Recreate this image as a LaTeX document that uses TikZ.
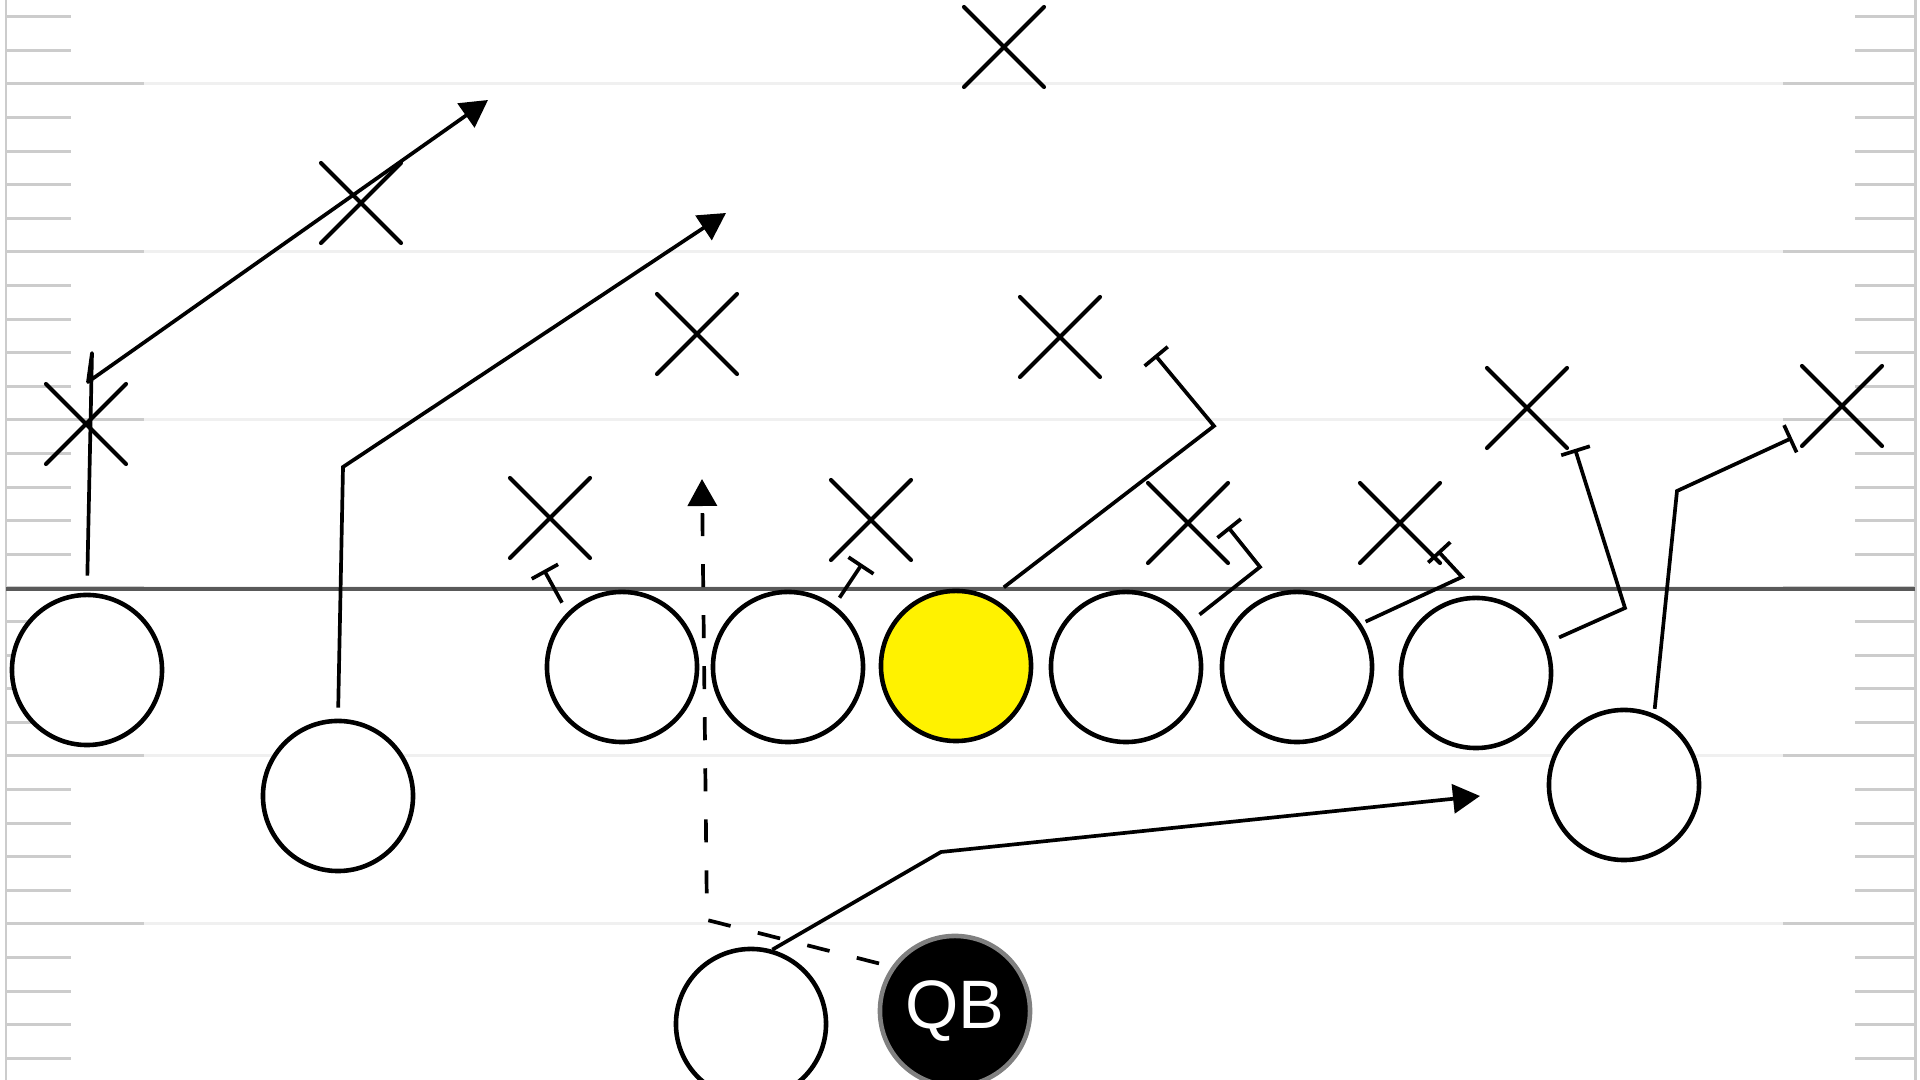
\documentclass[tikz,border=0pt]{standalone}
\usepackage{fontspec}
\newfontfamily\qbfont{Liberation Sans}
\usetikzlibrary{arrows.meta,shapes.misc}

\begin{document}
\begin{tikzpicture}[
		x=0.01cm,
		y=-0.01cm,
		hash/.style={draw=black!20, line width=0.85pt},
		yardline/.style={draw=black!6, line width=0.85pt},
		scrimmage/.style={draw=black!65, line width=1.3pt},
		player/.style={
			circle,
			draw=black,
			line width=1.3pt,
			fill=white,
			minimum size=1.5cm,
			inner sep=0pt,
		},
		snapper/.style={player, fill=yellow},
		qb/.style={
			player,
			fill=black,
			draw=black!50,
			text=white,
			font=\qbfont\fontsize{19.5}{22}\selectfont,
		},
		defender/.style={
			cross out,
			draw=black,
			line width=1.15pt,
			line cap=round,
			minimum size=0.76cm,
			inner sep=0pt,
		},
		route/.style={draw=black, line width=1.05pt},
		pass/.style={route, -{Triangle[length=0.27cm, width=0.29cm]}},
		block/.style={route, -{Bar[width=0.3cm]}},
		run/.style={pass, dash pattern=on 0.23cm off 0.28cm},
	]
		\fill[white] (0,0) rectangle (1920,1080);
		\useasboundingbox (0,0) rectangle (1920,1080);

		\foreach \n [evaluate=\n as \yy using 16.8+33.6*\n] in {0,...,31} {
			\draw[hash] (6,\yy) -- (71,\yy);
			\draw[hash] (1855,\yy) -- (1915,\yy);
		}
		\foreach \yy in {84,252,420,588,756,924} {
			\draw[hash] (6,\yy) -- (144,\yy);
			\draw[hash] (1783,\yy) -- (1915,\yy);
			\draw[yardline] (144,\yy) -- (1783,\yy);
		}
		\draw[hash] (6,0) -- (6,1080);
		\draw[hash] (1915,0) -- (1915,1080);
		\draw[scrimmage] (6,589) -- (1915,589);

		\node[player] (wrl) at (87,670) {};
		\node[player] (slotl) at (338,796) {};
		\node[player] (lt) at (622,667) {};
		\node[player] (lg) at (788,667) {};
		\node[snapper] (c) at (956,666) {};
		\node[player] (rg) at (1126,667) {};
		\node[player] (rt) at (1297,667) {};
		\node[player] (te) at (1476,673) {};
		\node[player] (slotr) at (1624,785) {};
		\node[player] (rb) at (751,1024) {};
		\node[qb] (qb) at (955,1011) {QB};

		\node[defender] (fs) at (1004,47) {};
		\node[defender] (deep) at (361,203) {};
		\node[defender] (cbl) at (86,424) {};
		\node[defender] (lbl) at (697,334) {};
		\node[defender] (lbr) at (1060,337) {};
		\node[defender] (dl1) at (550,518) {};
		\node[defender] (dl2) at (871,520) {};
		\node[defender] (dl3) at (1188,523) {};
		\node[defender] (dl4) at (1400,523) {};
		\node[defender] (olb) at (1527,408) {};
		\node[defender] (cbr) at (1842,406) {};

		\coordinate (wrlTop) at (92,353);
		\coordinate (wrlBreak) at (88,382);
		\coordinate (wrlEnd) at (488,100);
		\coordinate (slotlBreak) at (343,467);
		\coordinate (slotlEnd) at (726,213);
		\coordinate (ltEnd) at (544,570);
		\coordinate (lgEnd) at (862,564);
		\coordinate (cBreak) at (1214,426);
		\coordinate (cEnd) at (1155,355);
		\coordinate (rgBreak) at (1260,567);
		\coordinate (rgEnd) at (1228,527);
		\coordinate (rtBreak) at (1462,577);
		\coordinate (rtEnd) at (1438,551);
		\coordinate (teBreak) at (1625,608);
		\coordinate (teEnd) at (1575,449);
		\coordinate (slotrBreak) at (1677,491);
		\coordinate (slotrEnd) at (1792,438);
		\coordinate (rbBreak) at (941,852);
		\coordinate (rbEnd) at (1480,796);
		\coordinate (qbBreak) at (707,920);
		\coordinate (qbEnd) at (702,479);

		\draw[pass, line join=round, shorten <=0.17cm] (wrl.north) -- (wrlTop) -- (wrlBreak) -- (wrlEnd);
		\draw[pass, shorten <=0.11cm] (slotl.north) -- (slotlBreak) -- (slotlEnd);
		\draw[block, shorten <=0.11cm] (lt.135) -- (ltEnd);
		\draw[block, shorten <=0.09cm] (lg.53) -- (lgEnd);
		\draw[block, shorten <=0.16cm] (c.63) -- (cBreak) -- (cEnd);
		\draw[block, shorten <=0.13cm] (rg.35) -- (rgBreak) -- (rgEnd);
		\draw[block, shorten <=0.05cm] (rt.34) -- (rtBreak) -- (rtEnd);
		\draw[block, shorten <=0.13cm] (te.23) -- (teBreak) -- (teEnd);
		\draw[block, shorten <=0.05cm] (slotr.67) -- (slotrBreak) -- (slotrEnd);
		\draw[pass] (rb.74) -- (rbBreak) -- (rbEnd);
		\draw[run, shorten <=0.13cm] (qb.145) -- (qbBreak) -- (qbEnd);
	\end{tikzpicture}
\end{document}
